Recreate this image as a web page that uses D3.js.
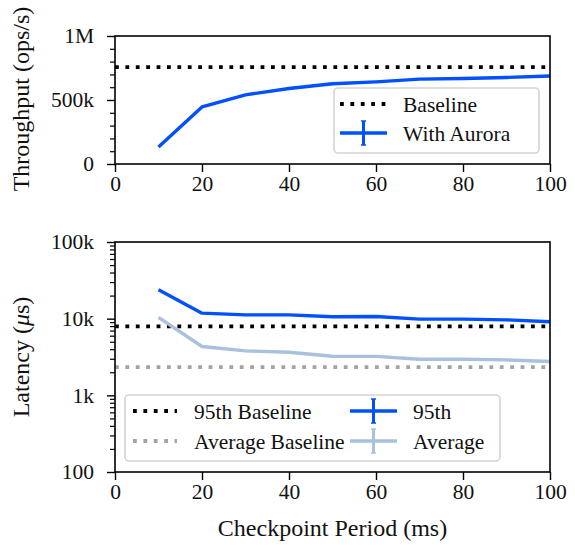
<!DOCTYPE html>
<html><head><meta charset="utf-8">
<script src="https://cdn.jsdelivr.net/npm/d3@7"></script>
<style>
body{margin:0;background:#fff;}
svg text{font-family:"Liberation Serif","Times New Roman",serif;fill:#111;}
</style></head>
<body><svg id="c" width="575" height="545"></svg>
<script>
const periods = [10,20,30,40,50,60,70,80,90,100];
const throughput = [133000,446000,540000,590000,627000,642000,663000,668000,676000,687000];
const throughputBaseline = 757000;
const lat95 = [23800,11800,11200,11200,10600,10650,9850,9850,9650,9100];
const latAvg = [10400,4330,3800,3650,3240,3220,2960,2960,2900,2760];
const lat95Baseline = 7950;
const latAvgBaseline = 2340;
const xTicks = [0,20,40,60,80,100];
const topYTicks = [0,500000,1000000];
const topYTickLabels = ["0","500k","1M"];
const botYTicks = [100,1000,10000,100000];
const botYTickLabels = ["100","1k","10k","100k"];

const BLUE="#0050ff", LIGHT="#a9c1dc", GREY="#a3a3a3";
const TICKFS=21.5, LEGFS=21.5, LABFS=24;
const svg = d3.select("#c");
const L=115, R=550;
const x = d3.scaleLinear().domain([0,100]).range([L,R]);
const yT = d3.scaleLinear().domain([0,1000000]).range([164,36]);
const yB = d3.scaleLog().domain([100,100000]).range([472,242]);

function frame(top, bot){
  svg.append("rect").attr("x",L).attr("y",top).attr("width",R-L).attr("height",bot-top)
    .attr("fill","none").attr("stroke","#000").attr("stroke-width",1.6);
}
function xAxis(bot){
  const g = svg.append("g").attr("transform",`translate(0,${bot})`)
    .call(d3.axisBottom(x).tickValues(xTicks).tickSize(8).tickPadding(4).tickFormat(d3.format("d")));
  g.select(".domain").remove();
  g.selectAll("line").attr("stroke","#000").attr("stroke-width",1.4);
  g.selectAll("text").attr("font-size",TICKFS).attr("font-family","Liberation Serif").attr("fill","#111");
}
function yAxis(scale, ticks, labels, minor){
  const g = svg.append("g").attr("transform",`translate(${L},0)`);
  g.call(d3.axisLeft(scale).tickValues(minor).tickSize(5).tickFormat(""));
  g.select(".domain").remove();
  g.selectAll("line").attr("stroke","#000").attr("stroke-width",1.2);
  const g2 = svg.append("g").attr("transform",`translate(${L},0)`);
  g2.call(d3.axisLeft(scale).tickValues(ticks).tickSize(8).tickPadding(13).tickFormat((d,i)=>labels[i]));
  g2.select(".domain").remove();
  g2.selectAll("line").attr("stroke","#000").attr("stroke-width",1.4);
  g2.selectAll("text").attr("font-size",TICKFS).attr("font-family","Liberation Serif").attr("fill","#111");
}
function hline(scale, v, color){
  svg.append("line").attr("x1",x(0)).attr("x2",x(100)).attr("y1",scale(v)).attr("y2",scale(v))
    .attr("stroke",color).attr("stroke-width",3.8).attr("stroke-dasharray","3.8 6.6");
}
function series(scale, vals, color){
  svg.append("path").datum(vals.map((v,i)=>[periods[i],v]))
    .attr("d", d3.line().x(d=>x(d[0])).y(d=>scale(d[1])))
    .attr("fill","none").attr("stroke",color).attr("stroke-width",3.4)
    .attr("stroke-linejoin","round").attr("stroke-linecap","butt");
}
function legendBox(x0,y0,w,h){
  svg.append("rect").attr("x",x0).attr("y",y0).attr("width",w).attr("height",h).attr("rx",4)
    .attr("fill","#fff").attr("fill-opacity",0.85).attr("stroke","#d4d4d4").attr("stroke-width",1.6);
}
function legDot(x0,x1,y,color){
  svg.append("line").attr("x1",x0).attr("x2",x1).attr("y1",y).attr("y2",y)
    .attr("stroke",color).attr("stroke-width",3.8).attr("stroke-dasharray","3.8 6.6");
}
function legErr(x0,x1,y,color){
  svg.append("line").attr("x1",x0).attr("x2",x1).attr("y1",y).attr("y2",y)
    .attr("stroke",color).attr("stroke-width",3.4);
  const cx=(x0+x1)/2;
  svg.append("line").attr("x1",cx).attr("x2",cx).attr("y1",y-12).attr("y2",y+12)
    .attr("stroke",color).attr("stroke-width",3);
  [y-12,y+12].forEach(yy=>svg.append("line").attr("x1",cx-2.5).attr("x2",cx+2.5).attr("y1",yy).attr("y2",yy)
    .attr("stroke",color).attr("stroke-width",1.5));
}
function legText(x0,y,t){
  svg.append("text").attr("x",x0).attr("y",y).attr("dy","0.35em").attr("font-size",LEGFS).text(t);
}

// Top panel
hline(yT, throughputBaseline, "#000");
series(yT, throughput, BLUE);
const topMinor = d3.range(0,1000001,100000).filter(v=>!topYTicks.includes(v));
yAxis(yT, topYTicks, topYTickLabels, topMinor);
xAxis(164);
frame(36,164);
legendBox(334,88,205,65);
legDot(340,387,104,"#000"); legText(403,104,"Baseline");
legErr(340,387,133,BLUE); legText(403,133,"With Aurora");

// Bottom panel
hline(yB, lat95Baseline, "#000");
hline(yB, latAvgBaseline, GREY);
series(yB, latAvg, LIGHT);
series(yB, lat95, BLUE);
const botMinor = [];
[100,1000,10000].forEach(d=>{for(let k=2;k<=9;k++) botMinor.push(d*k);});
yAxis(yB, botYTicks, botYTickLabels, botMinor);
xAxis(472);
frame(242,472);
legendBox(125,395,375,66);
legDot(133,177,411,"#000"); legText(194,411,"95th Baseline");
legDot(133,177,441,GREY); legText(194,441,"Average Baseline");
legErr(350,397,411,BLUE); legText(413,411,"95th");
legErr(350,397,441,LIGHT); legText(413,441,"Average");

// Axis labels
svg.append("text").attr("transform","translate(29,99) rotate(-90)").attr("text-anchor","middle")
  .attr("font-size",LABFS).text("Throughput (ops/s)");
const lt = svg.append("text").attr("transform","translate(29,357) rotate(-90)").attr("text-anchor","middle")
  .attr("font-size",LABFS);
lt.append("tspan").text("Latency (");
lt.append("tspan").attr("font-style","italic").text("μ");
lt.append("tspan").text("s)");
svg.append("text").attr("x",(L+R)/2).attr("y",536).attr("text-anchor","middle")
  .attr("font-size",LABFS).text("Checkpoint Period (ms)");
</script></body></html>
